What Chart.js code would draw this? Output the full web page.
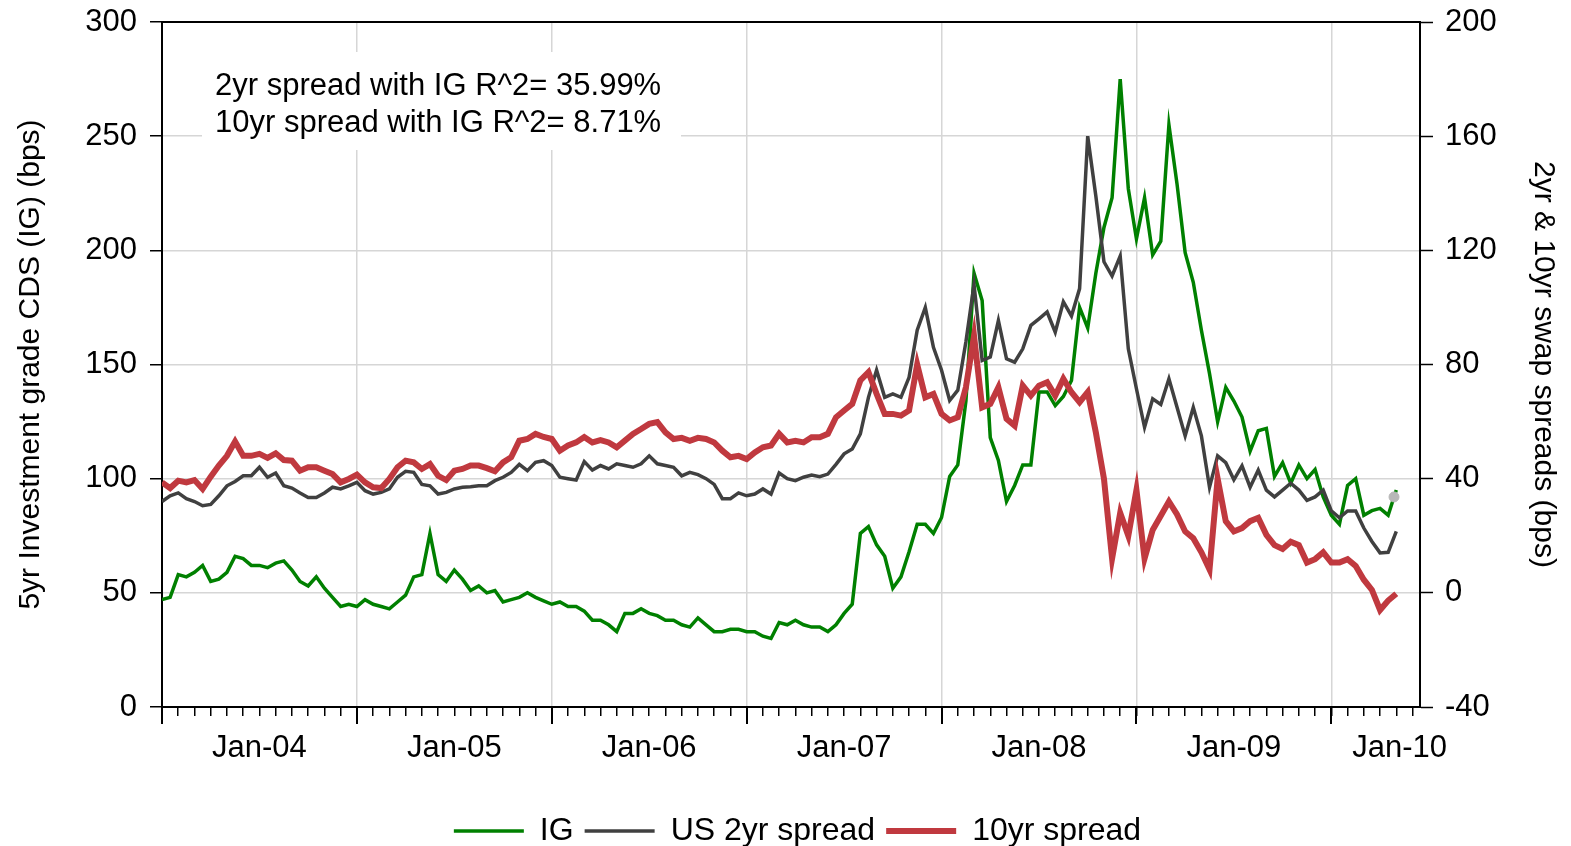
<!DOCTYPE html>
<html>
<head>
<meta charset="utf-8">
<script src="https://cdn.jsdelivr.net/npm/chart.js@4.4.1/dist/chart.umd.min.js"></script>
<style>
  html, body { margin: 0; padding: 0; background: #fff; }
  #wrap { width: 1571px; height: 846px; }
</style>
</head>
<body>
<div id="wrap"><canvas id="spreadChart" width="1571" height="846"></canvas></div>
<script>
// IG (left axis, bps) - sampled every half month starting Jul-2003
const igValues = [
  47, 48, 58, 57, 59, 62, 55, 56, 59, 66,
  65, 62, 62, 61, 63, 64, 60, 55, 53, 57,
  52, 48, 44, 45, 44, 47, 45, 44, 43, 46,
  49, 57, 58, 76, 58, 55, 60, 56, 51, 53,
  50, 51, 46, 47, 48, 50, 48, 46.5, 45, 46,
  44, 44, 42, 38, 38, 36, 33, 41, 41, 43,
  41, 40, 38, 38, 36, 35, 39, 36, 33, 33,
  34, 34, 33, 33, 31, 30, 37, 36, 38, 36,
  35, 35, 33, 36, 41, 45, 76, 79, 71, 66,
  52, 57, 68, 80, 80, 76, 83, 101, 106, 134,
  190, 178, 118, 108, 90, 97, 106, 106, 138, 138,
  132, 136, 143, 175, 166, 190, 210, 223, 275, 227,
  205, 223, 198, 204, 255, 229, 199, 186, 165, 146,
  125, 140, 134, 127, 112, 121, 122, 101, 107, 98,
  106, 100, 104, 92, 84, 80, 97, 100, 84, 86,
  87, 84, 95
];
// US 2yr swap spread (right axis, bps)
const swap2Values = [
  32, 34, 35, 33, 32, 30.5, 31, 34, 37.5, 39,
  41, 41, 44, 40.5, 42, 37.5, 36.7, 35, 33.4, 33.4,
  35, 37, 36.4, 37.5, 38.7, 35.8, 34.6, 35.2, 36.4, 40.5,
  42.6, 42.2, 38, 37.5, 34.6, 35.2, 36.4, 37, 37.2, 37.5,
  37.5, 39.3, 40.5, 42.2, 45, 42.8, 45.7, 46.3, 44.6, 40.5,
  40, 39.5, 46, 43, 44.6, 43.4, 45.2, 44.6, 44, 45.2,
  48, 45.2, 44.6, 44, 41, 42.2, 41.4, 40, 38, 33,
  33, 35, 34, 34.6, 36.4, 34.6, 42, 40, 39.3, 40.5,
  41.3, 40.7, 41.6, 45, 48.7, 50.4, 55.7, 68.5, 78, 68.5,
  69.7, 68.5, 75.5, 92, 100, 86, 78, 67.4, 71, 88,
  108, 81.4, 82.6, 95.4, 82, 80.8, 85.5, 93.7, 96, 98.4,
  91.3, 102, 97, 106.6, 160, 139, 116, 111, 118, 85.5,
  71.5, 58, 68, 66, 75, 65, 55, 65, 55, 37,
  48, 45.6, 39.6, 44.5, 37, 43, 36, 33.6, 36, 38.4,
  36, 32.4, 33.6, 36, 28.7, 26.3, 28.7, 28.7, 22.7, 18,
  14, 14.2, 21.5
];
// 10yr swap spread (right axis, bps)
const swap10Values = [
  38.7, 36.7, 39.3, 38.7, 39.5, 36.4, 40.7, 44.6, 48, 53,
  48, 48, 48.7, 47.3, 48.9, 46.5, 46.3, 42.8, 44, 44,
  42.8, 41.6, 38.7, 39.9, 41.4, 38.7, 37, 36.7, 39.9, 44,
  46.3, 45.7, 43.4, 45.1, 41, 39.5, 42.8, 43.4, 44.6, 44.6,
  43.7, 42.6, 45.7, 47.5, 53.3, 53.9, 55.7, 54.6, 53.9, 49.8,
  51.6, 52.7, 54.6, 52.7, 53.5, 52.7, 51, 53.3, 55.7, 57.4,
  59.2, 59.8, 56.2, 53.9, 54.3, 53.3, 54.3, 53.9, 52.7, 49.8,
  47.5, 48, 46.9, 49.2, 51, 51.6, 55.7, 52.7, 53.3, 52.7,
  54.5, 54.5, 55.7, 61.5, 63.9, 66.2, 74.4, 77.3, 69.7, 62.7,
  62.7, 62.1, 63.9, 80, 68.5, 69.7, 62.7, 60.4, 61.5, 72,
  90, 65, 66.2, 72, 61, 58.6, 72.6, 69.1, 72.6, 73.8,
  69.1, 75, 70.3, 66.8, 70.3, 56.2, 40, 12, 28, 20,
  36, 12, 22, 27, 32, 27.5, 21.5, 19.1, 14.2, 8.2,
  40, 25.1, 21.5, 22.7, 25.1, 26.3, 20.3, 16.7, 15.4, 17.9,
  16.7, 10.6, 11.8, 14.2, 10.6, 10.6, 11.8, 9.4, 4.6, 1,
  -6, -2.7, -0.3
];
// x position of each sample in months since Jul-2003 (half month steps)
const months = igValues.map((_, i) => i / 2);

// the lone grey marker at the end of the IG line
const lastMarkX = [75.86];
const lastMarkY = [92];

// x axis tick labels (month offsets) - Jan-10 sits left of the axis end
const labelMonths = [6, 18, 30, 42, 54, 66, 76.2];
const labelTexts = ['Jan-04', 'Jan-05', 'Jan-06', 'Jan-07', 'Jan-08', 'Jan-09', 'Jan-10'];
const yearMonths = [0, 12, 24, 36, 48, 60, 72];
const xMax = 77.46;

const noteLines = ['2yr spread with IG R^2= 35.99%', '10yr spread with IG R^2= 8.71%'];

const fontFamily = "'Liberation Sans', Arial, sans-serif";
const gridGrey = '#d6d6d6';

const toPoints = (vals) => vals.map((v, i) => ({ x: months[i], y: v }));

// drop the label overflow padding so the plot keeps its own top edge
const noPad = (scale) => { scale.paddingTop = 0; scale.paddingBottom = 0; };

// white box + note, top border, longer year ticks
const chartExtras = {
    id: 'chartExtras',
    beforeDatasetsDraw(chart) {
        const { ctx, chartArea: a } = chart;
        ctx.save();
        ctx.fillStyle = '#fff';
        ctx.fillRect(a.left + 40, a.top + 30, 479, 98);
        ctx.restore();
    },
    afterDraw(chart) {
        const { ctx, chartArea: a, scales } = chart;
        ctx.save();
        ctx.strokeStyle = '#000';
        ctx.lineWidth = 2;
        ctx.beginPath();
        ctx.moveTo(a.left - 1, a.top);
        ctx.lineTo(a.right + 1, a.top);
        ctx.stroke();

        ctx.beginPath();
        yearMonths.forEach(m => {
            const px = Math.round(scales.x.getPixelForValue(m));
            ctx.moveTo(px, a.bottom);
            ctx.lineTo(px, a.bottom + 17);
        });
        ctx.stroke();

        ctx.fillStyle = '#000';
        ctx.font = "31px " + fontFamily;
        ctx.textBaseline = 'alphabetic';
        ctx.textAlign = 'left';
        noteLines.forEach((t, k) => ctx.fillText(t, a.left + 53, a.top + 73 + k * 36.7));
        ctx.restore();
    }
};

const ctx = document.getElementById('spreadChart').getContext('2d');
new Chart(ctx, {
    type: 'line',
    data: {
        datasets: [
            {
                label: 'IG',
                data: toPoints(igValues),
                yAxisID: 'y',
                borderColor: '#008000',
                backgroundColor: '#008000',
                borderWidth: 3.5,
                pointRadius: 0,
                tension: 0,
                order: 3
            },
            {
                label: 'US 2yr spread',
                data: toPoints(swap2Values),
                yAxisID: 'y2',
                borderColor: '#404040',
                backgroundColor: '#404040',
                borderWidth: 3.5,
                pointRadius: 0,
                tension: 0,
                order: 2
            },
            {
                label: '10yr spread',
                data: toPoints(swap10Values),
                yAxisID: 'y2',
                borderColor: '#c0393f',
                backgroundColor: '#c0393f',
                borderWidth: 6,
                pointRadius: 0,
                tension: 0,
                order: 1
            },
            {
                label: 'last',
                data: lastMarkX.map((x, i) => ({ x: x, y: lastMarkY[i] })),
                yAxisID: 'y',
                showLine: false,
                pointRadius: 5,
                pointBackgroundColor: '#b8b8b8',
                pointBorderColor: '#b8b8b8',
                borderColor: '#b8b8b8',
                order: 0
            }
        ]
    },
    options: {
        responsive: false,
        animation: false,
        devicePixelRatio: 1,
        // left padding also nudges the centred legend to the right
        layout: { padding: { left: 24, right: 0, top: 22, bottom: -11 } },
        plugins: {
            title: { display: false },
            tooltip: { enabled: false },
            legend: {
                position: 'bottom',
                labels: {
                    color: '#000',
                    font: { family: fontFamily, size: 32 },
                    usePointStyle: true,
                    pointStyle: 'line',
                    pointStyleWidth: 70,
                    padding: 11,
                    filter: (item) => item.datasetIndex < 3,
                    sort: (a, b) => a.datasetIndex - b.datasetIndex
                }
            }
        },
        scales: {
            x: {
                type: 'linear',
                min: 0,
                max: xMax,
                afterBuildTicks: (scale) => {
                    const t = [];
                    for (let m = 0; m <= 77; m++) t.push({ value: m });
                    labelMonths.forEach(m => { if (!Number.isInteger(m)) t.push({ value: m }); });
                    t.sort((p, q) => p.value - q.value);
                    scale.ticks = t;
                },
                afterFit: (scale) => { scale.height = 97; },
                ticks: {
                    autoSkip: false,
                    maxRotation: 0,
                    minRotation: 0,
                    color: '#000',
                    padding: 14,
                    font: { family: fontFamily, size: 31 },
                    callback: (value) => {
                        const k = labelMonths.indexOf(value);
                        return k >= 0 ? labelTexts[k] : '';
                    }
                },
                grid: {
                    drawOnChartArea: true,
                    tickLength: 9,
                    color: (c) => (c.tick && c.tick.value > 0 && c.tick.value % 12 === 0) ? gridGrey : 'rgba(0,0,0,0)',
                    lineWidth: 1.5,
                    tickColor: (c) => (c.tick && Number.isInteger(c.tick.value)) ? '#000' : 'rgba(0,0,0,0)',
                    tickWidth: 1.5
                },
                border: { color: '#000', width: 2 }
            },
            y: {
                position: 'left',
                min: 0,
                max: 300,
                afterFit: (scale) => { scale.width = 138; noPad(scale); },
                ticks: {
                    stepSize: 50,
                    color: '#000',
                    padding: 13,
                    font: { family: fontFamily, size: 31 }
                },
                grid: {
                    color: gridGrey,
                    lineWidth: 1.5,
                    tickLength: 12,
                    tickColor: '#000',
                    tickWidth: 1.5
                },
                border: { color: '#000', width: 2 },
                title: {
                    display: true,
                    text: '5yr Investment grade CDS (IG) (bps)',
                    color: '#000',
                    font: { family: fontFamily, size: 30 },
                    padding: { top: -11, bottom: 0 }
                }
            },
            y2: {
                position: 'right',
                min: -40,
                max: 200,
                afterFit: (scale) => { scale.width = 151; noPad(scale); },
                ticks: {
                    stepSize: 40,
                    color: '#000',
                    padding: 12,
                    font: { family: fontFamily, size: 31 }
                },
                grid: {
                    drawOnChartArea: false,
                    tickLength: 13,
                    tickColor: '#000',
                    tickWidth: 1.5
                },
                border: { color: '#000', width: 2 },
                title: {
                    display: true,
                    text: '2yr & 10yr swap spreads (bps)',
                    color: '#000',
                    font: { family: fontFamily, size: 30 },
                    padding: { top: 10, bottom: 0 }
                }
            }
        }
    },
    plugins: [chartExtras]
});
</script>
</body>
</html>
